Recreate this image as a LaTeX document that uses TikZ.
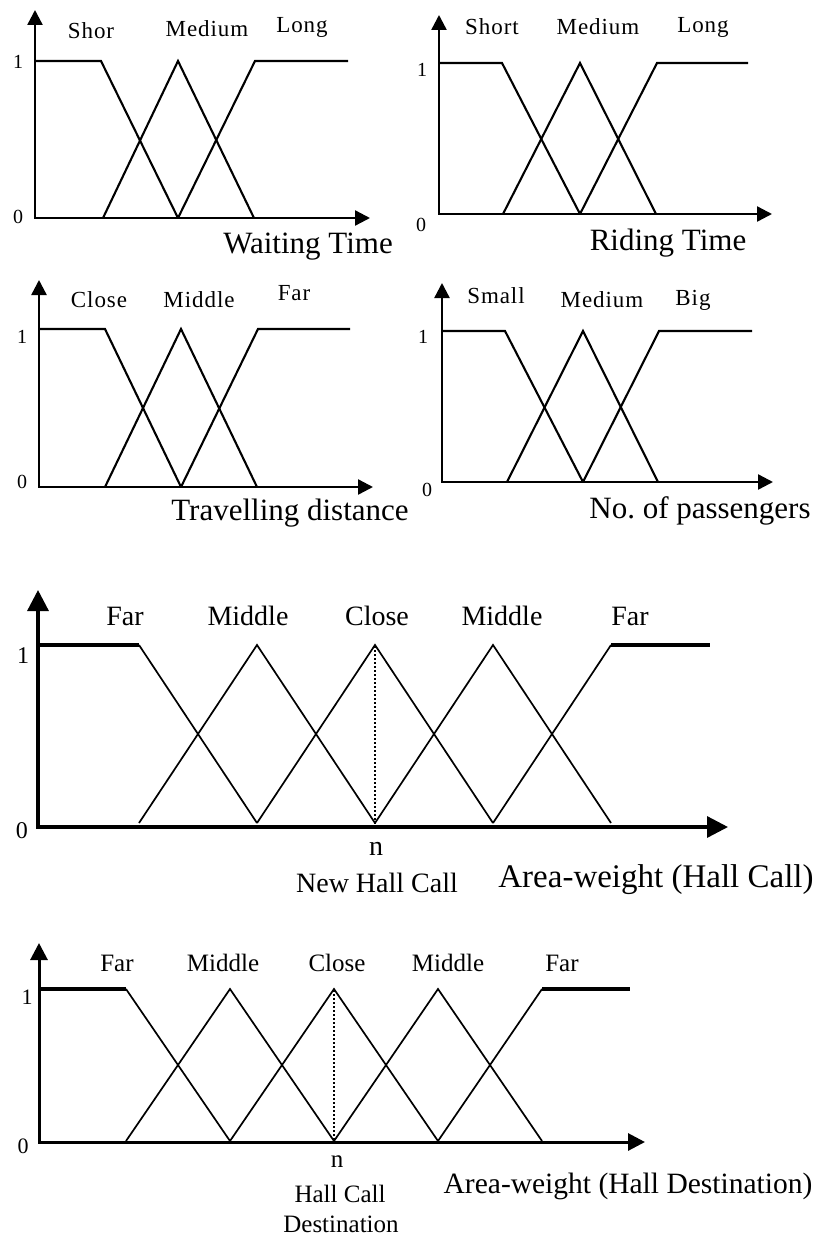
\documentclass[tikz,border=0pt]{standalone}
\usepackage{fontspec}
\setmainfont{Liberation Serif}
\newfontfamily\wideserif[LetterSpace=4]{Liberation Serif}
\usetikzlibrary{arrows.meta}

\begin{document}
\begin{tikzpicture}[x=1pt,y=-1pt,
	axtop/.style={line width=2.4pt,{Triangle[length=15pt,width=15pt]}-{Triangle[length=15pt,width=15pt]}},
	axmid/.style={line width=3.3pt,{Triangle[length=21pt,width=21pt]}-{Triangle[length=21pt,width=21pt]}},
	axbot/.style={line width=3pt,{Triangle[length=17pt,width=17pt]}-{Triangle[length=17pt,width=17pt]}},
	mftop/.style={line width=2.1pt},
	mf/.style={line width=1.7pt},
	flat/.style={line width=3.2pt},
	nline/.style={line width=2.6pt,dash pattern=on 2.4pt off 1.6pt},
	lbltop/.style={anchor=base,inner sep=0pt,font=\wideserif\fontsize{23}{23}\selectfont},
	lblmid/.style={anchor=base,inner sep=0pt,font=\fontsize{28}{28}\selectfont},
	lblbot/.style={anchor=base,inner sep=0pt,font=\fontsize{25}{25}\selectfont},
	numtop/.style={anchor=base,inner sep=0pt,font=\fontsize{20}{20}\selectfont},
	nummid/.style={anchor=base,inner sep=0pt,font=\fontsize{24}{24}\selectfont},
	numbot/.style={anchor=base,inner sep=0pt,font=\fontsize{22}{22}\selectfont},
	ttltop/.style={anchor=base,inner sep=0pt,font=\fontsize{31}{31}\selectfont},
	ttlmid/.style={anchor=base,inner sep=0pt,font=\fontsize{33}{33}\selectfont},
	ttlbot/.style={anchor=base,inner sep=0pt,font=\fontsize{29.5}{29.5}\selectfont}]
		\useasboundingbox (0,0) rectangle (820,1239);
		% waiting time
		\draw [axtop] (35,10) -- (35,218) -- (370,218);
		\draw [mftop] (35,61) -- (101,61) -- (178,218);
		\draw [mftop] (103,218) -- (178,61) -- (254,218);
		\draw [mftop] (178,218) -- (255,61) -- (348,61);
		\node[numtop] (wt1) at (18,68) {1};
		\node[numtop] (wt0) at (18,223) {0};
		\node[lbltop] (wtS) at (91,38) {Shor};
		\node[lbltop] (wtM) at (207,37) {Medium};
		\node[lbltop] (wtL) at (302,33) {Long};
		\node[ttltop] (wtT) at (308,253) {Waiting Time};
		% riding time
		\draw [axtop] (439,15) -- (439,214) -- (772,214);
		\draw [mftop] (439,63) -- (502,63) -- (580,214);
		\draw [mftop] (503,214) -- (580,63) -- (656,214);
		\draw [mftop] (580,214) -- (657,63) -- (748,63);
		\node[numtop] (rt1) at (422,76) {1};
		\node[numtop] (rt0) at (421,231) {0};
		\node[lbltop] (rtS) at (492,35) {Short};
		\node[lbltop] (rtM) at (598,35) {Medium};
		\node[lbltop] (rtL) at (703,33) {Long};
		\node[ttltop] (rtT) at (668,250) {Riding Time};
		% travelling distance
		\draw [axtop] (39,280) -- (39,487) -- (373,487);
		\draw [mftop] (39,329) -- (105,329) -- (181,487);
		\draw [mftop] (105,487) -- (181,329) -- (257,487);
		\draw [mftop] (181,487) -- (258,329) -- (350,329);
		\node[numtop] (td1) at (22,343) {1};
		\node[numtop] (td0) at (22,488) {0};
		\node[lbltop] (tdC) at (99,307) {Close};
		\node[lbltop] (tdM) at (199,307) {Middle};
		\node[lbltop] (tdF) at (294,300) {Far};
		\node[ttltop] (tdT) at (290,520) {Travelling distance};
		% passengers
		\draw [axtop] (442,283) -- (442,482) -- (773,482);
		\draw [mftop] (442,331) -- (505,331) -- (583,482);
		\draw [mftop] (507,482) -- (583,331) -- (658,482);
		\draw [mftop] (583,482) -- (659,331) -- (752,331);
		\node[numtop] (np1) at (423,343) {1};
		\node[numtop] (np0) at (427,496) {0};
		\node[lbltop] (npS) at (496,303) {Small};
		\node[lbltop] (npM) at (602,307) {Medium};
		\node[lbltop] (npB) at (693,305) {Big};
		\node[ttltop] (npT) at (700,518) {No.\ of passengers};
		% area-weight, hall call
		\draw [axmid] (38,590) -- (38,827) -- (728,827);
		\draw [flat] (38,645) -- (139,645);
		\draw [mf] (139,645) -- (257,823);
		\draw [mf] (139,823) -- (257,645) -- (375,823);
		\draw [mf] (257,823) -- (375,645) -- (493,823);
		\draw [mf] (375,823) -- (493,645) -- (611,823);
		\draw [mf] (493,823) -- (611,645);
		\draw [flat] (611,645) -- (710,645);
		\draw [nline] (375,646) -- (375,825);
		\node[nummid] (hc1) at (23,663) {1};
		\node[nummid] (hc0) at (22,838) {0};
		\node[lblmid] (hcF1) at (125,625) {Far};
		\node[lblmid] (hcM1) at (248,625) {Middle};
		\node[lblmid] (hcC) at (377,625) {Close};
		\node[lblmid] (hcM2) at (502,625) {Middle};
		\node[lblmid] (hcF2) at (630,625) {Far};
		\node[lblmid] (hcn) at (376,855) {n};
		\node[lblmid] (hcN) at (377,892) {New Hall Call};
		\node[ttlmid] (hcT) at (656,887) {Area-weight (Hall Call)};
		% area-weight, hall destination
		\draw [axbot] (39,943) -- (39,1142) -- (645,1142);
		\draw [flat] (39,989) -- (126,989);
		\draw [mf] (126,989) -- (230,1141);
		\draw [mf] (126,1141) -- (230,989) -- (334,1141);
		\draw [mf] (230,1141) -- (334,989) -- (438,1141);
		\draw [mf] (334,1141) -- (438,989) -- (542,1141);
		\draw [mf] (438,1141) -- (542,989);
		\draw [flat] (542,989) -- (630,989);
		\draw [nline] (334,990) -- (334,1141);
		\node[numbot] (hd1) at (27,1004) {1};
		\node[numbot] (hd0) at (23,1153) {0};
		\node[lblbot] (hdF1) at (117,971) {Far};
		\node[lblbot] (hdM1) at (223,971) {Middle};
		\node[lblbot] (hdC) at (337,971) {Close};
		\node[lblbot] (hdM2) at (448,971) {Middle};
		\node[lblbot] (hdF2) at (562,971) {Far};
		\node[lblbot] (hdn) at (337,1167) {n};
		\node[lblbot] (hdH) at (340,1202) {Hall Call};
		\node[lblbot] (hdD) at (341,1232) {Destination};
		\node[ttlbot] (hdT) at (628,1193) {Area-weight (Hall Destination)};
	\end{tikzpicture}
\end{document}
